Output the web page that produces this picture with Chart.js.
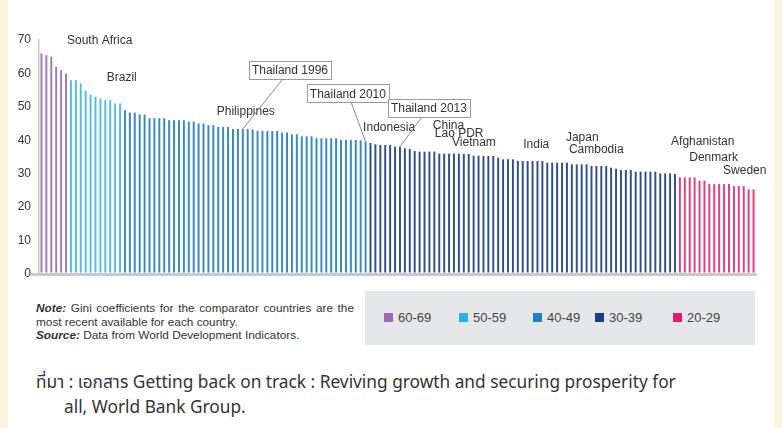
<!DOCTYPE html>
<html>
<head>
<meta charset="utf-8">
<script src="https://cdn.jsdelivr.net/npm/chart.js@4"></script>
<style>
  html, body { margin: 0; padding: 0; }
  body { width: 782px; height: 428px; background: #fdf3e1; position: relative; overflow: hidden;
         font-family: "Liberation Sans", Arial, sans-serif; }
  #panel { position: absolute; left: 8px; top: 0; width: 766px; height: 428px; background: #fff; }
  #wrap { position: absolute; left: 0; top: 0; width: 782px; height: 290px; }
  #note { position: absolute; left: 36px; top: 302px; width: 318px; font-size: 11.8px; line-height: 13.5px; color: #333; }
  #note .first { text-align: justify; text-align-last: justify; white-space: nowrap; }
  #legend { position: absolute; left: 365px; top: 291px; width: 390px; height: 54px; background: #e6e7e9; }
  .item { position: absolute; top: 0; line-height: 54px; font-size: 13px; color: #444; white-space: nowrap; }
  .sw { display: inline-block; width: 9px; height: 9px; margin-right: 5px; }
  #source { position: absolute; left: 36px; top: 371px; font-size: 17.3px; line-height: 25px; color: #333;
            font-family: "Noto Sans Thai", "Noto Sans", "DejaVu Sans", sans-serif; white-space: nowrap; }
  #source .second { padding-left: 28px; }
</style>
</head>
<body>
<div id="panel"></div>
<div id="wrap"><canvas id="gini" width="782" height="290"></canvas></div>
<div id="note">
  <div class="first"><b><i>Note:</i></b> Gini coefficients for the comparator countries are the</div>
  <div>most recent available for each country.</div>
  <div><b><i>Source:</i></b> Data from World Development Indicators.</div>
</div>
<div id="legend"></div>
<div id="source">
  <div>ที่มา : เอกสาร Getting back on track : Reviving growth and securing prosperity for</div>
  <div class="second">all, World Bank Group.</div>
</div>
<script>
// Gini coefficient per country, sorted from highest to lowest
const gini = [
  66.0, 65.5, 65.0, 62.0, 61.0, 60.0,
  58.0, 58.0, 57.0, 54.8, 53.7, 53.0, 52.5, 52.0, 52.0, 51.0, 51.0,
  49.0, 48.3, 48.3, 47.7, 47.7, 46.6, 46.6, 46.6, 46.6, 46.0, 46.0, 46.0, 46.0, 45.6, 45.6,
  45.0, 45.0, 44.5, 44.5, 44.0, 44.0, 44.0, 43.4, 43.4, 43.4, 43.4, 43.2, 42.8, 42.8, 42.8,
  42.8, 42.8, 42.3, 42.3, 41.8, 41.8, 41.2, 41.2, 41.2, 40.6, 40.6, 40.6, 40.6, 40.6, 40.1,
  40.1, 40.1, 40.1, 40.0, 39.6,
  39.2, 38.8, 38.6, 38.6, 38.6, 38.1, 38.1, 37.6, 37.4, 36.8, 36.6, 36.6, 36.6, 36.6, 36.0,
  36.0, 36.0, 36.0, 36.0, 35.9, 35.9, 35.4, 35.4, 35.3, 35.3, 35.3, 34.8, 34.3, 34.3, 34.3,
  33.8, 33.8, 33.8, 33.8, 33.8, 33.8, 33.3, 33.3, 33.3, 33.3, 33.3, 32.8, 32.8, 32.8, 32.8,
  32.3, 32.3, 32.3, 32.3, 31.8, 31.5, 31.1, 31.1, 31.1, 30.6, 30.6, 30.6, 30.6, 30.6, 30.1,
  30.1, 30.1, 29.9,
  28.9, 28.9, 28.9, 28.9, 27.9, 27.9, 26.9, 26.9, 26.9, 26.9, 26.9, 26.3, 26.3, 26.3, 25.3, 25.3
];

// Range bands, in the order the bars appear
const bandLabels = ["60-69", "50-59", "40-49", "30-39", "20-29"];
const bandCounts = [6, 11, 50, 63, 16];
const bandColors = ["#a07bb7", "#55bbe7", "#3489c7", "#2f5090", "#e23d7d"];
const legendColors = ["#9b6bb3", "#27b3e8", "#1c80c4", "#1b3f86", "#e6176e"];

// Named countries: index in the sorted list (fractional = text start) and label height in Gini units
const countryNames = ["South Africa", "Brazil", "Philippines", "Indonesia", "China", "Lao PDR", "Vietnam",
                      "India", "Japan", "Cambodia", "Afghanistan", "Denmark", "Sweden"];
const countryAt =    [5.2, 13.3, 35.7, 65.5, 79.7, 80.1, 83.6, 98.1, 106.8, 107.4, 128.2, 131.9, 138.8];
const countryLevel = [69.7, 58.6, 48.5, 43.7, 44.3, 41.9, 39.2, 38.6, 40.7, 37.1, 39.5, 34.7, 30.8];

// Thailand call-outs: bar they point at, box centre (index) and box height (Gini units)
const thaiNames = ["Thailand 1996", "Thailand 2010", "Thailand 2013"];
const thaiBar = [41, 66, 73];
const thaiAt = [50.6, 62.4, 78.9];
const thaiLevel = [61.0, 54.0, 49.8];

const yTicks = [0, 10, 20, 30, 40, 50, 60, 70];

// one colour per bar from the band counts
const barBand = [];
bandCounts.forEach((n, b) => { for (let k = 0; k < n; k++) barBand.push(b); });

const labels = gini.map((_, i) => "c" + i);
const FONT = "'Liberation Sans', Arial, sans-serif";

const notesPlugin = {
  id: "notes",
  afterDatasetsDraw(chart) {
    const { ctx, scales: { x, y } } = chart;
    ctx.save();
    ctx.font = "12px " + FONT;
    ctx.fillStyle = "#333";
    ctx.textBaseline = "middle";
    ctx.textAlign = "left";
    countryNames.forEach((name, i) => {
      ctx.fillText(name, x.getPixelForValue(countryAt[i]), y.getPixelForValue(countryLevel[i]));
    });
    // boxed labels with leader lines
    thaiNames.forEach((name, i) => {
      const cx = x.getPixelForValue(thaiAt[i]);
      const cy = y.getPixelForValue(thaiLevel[i]);
      const w = ctx.measureText(name).width + 6;
      const h = 18;
      const bx = x.getPixelForValue(thaiBar[i]);
      const by = y.getPixelForValue(gini[thaiBar[i]]);
      const bottom = cy + h / 2;
      const t = (by - bottom) / (by - cy);
      ctx.strokeStyle = "#8a8a8a";
      ctx.lineWidth = 1;
      ctx.beginPath();
      ctx.moveTo(bx, by);
      ctx.lineTo(bx + (cx - bx) * t, bottom);
      ctx.stroke();
      ctx.fillStyle = "#fff";
      ctx.fillRect(cx - w / 2, cy - h / 2, w, h);
      ctx.strokeStyle = "#9a9a9a";
      ctx.strokeRect(Math.round(cx - w / 2) + 0.5, Math.round(cy - h / 2) + 0.5, Math.round(w), h);
      ctx.fillStyle = "#333";
      ctx.textAlign = "center";
      ctx.fillText(name, cx, cy + 1);
      ctx.textAlign = "left";
    });
    ctx.restore();
  }
};

new Chart(document.getElementById("gini"), {
  type: "bar",
  plugins: [notesPlugin],
  data: {
    labels: labels,
    datasets: [{
      data: gini,
      backgroundColor: gini.map((_, i) => bandColors[barBand[i]]),
      barPercentage: 0.4,
      categoryPercentage: 1
    }]
  },
  options: {
    responsive: false,
    animation: false,
    devicePixelRatio: 1,
    layout: { padding: { top: 40, right: 26, bottom: 16, left: 0 } },
    plugins: { legend: { display: false }, tooltip: { enabled: false } },
    scales: {
      x: {
        ticks: { display: false },
        grid: { display: false, drawTicks: false },
        border: { display: true, color: "#c9c9c9", width: 3 },
        afterFit: s => { s.height = 0; }
      },
      y: {
        min: yTicks[0],
        max: yTicks[yTicks.length - 1],
        afterBuildTicks: s => { s.ticks = yTicks.map(v => ({ value: v })); },
        ticks: { padding: 0, color: "#333", font: { size: 12, family: FONT } },
        grid: {
          drawOnChartArea: false,
          drawTicks: true,
          tickLength: 8,
          lineWidth: 3,
          color: c => (c.tick && c.tick.value === 0 ? "#c9c9c9" : "rgba(0,0,0,0)")
        },
        border: { display: true, color: "#c9c9c9", width: 1.5 },
        afterFit: s => { s.width = 39; }
      }
    }
  }
});

// HTML legend from the band arrays
const legendX = [19, 94, 168, 230, 308];
const legend = document.getElementById("legend");
bandLabels.forEach((lab, i) => {
  const item = document.createElement("div");
  item.className = "item";
  item.style.left = legendX[i] + "px";
  item.innerHTML = '<span class="sw" style="background:' + legendColors[i] + '"></span>' + lab;
  legend.appendChild(item);
});
</script>
</body>
</html>
